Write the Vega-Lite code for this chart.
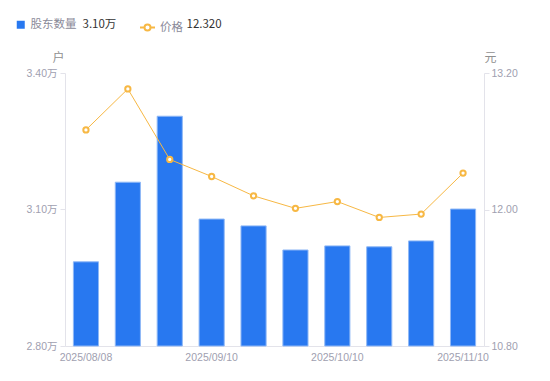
{
  "$schema": "https://vega.github.io/schema/vega-lite/v6.json",
  "width": 419,
  "height": 273,
  "autosize": "none",
  "padding": {"left": 65, "top": 73, "right": 66, "bottom": 35},
  "config": {
    "view": {"stroke": null},
    "font": "Liberation Sans, Noto Sans CJK SC, sans-serif",
    "axis": {"labelFont": "Liberation Sans, Noto Sans CJK SC, sans-serif", "titleFont": "Noto Sans CJK SC"},
    "legend": {"labelFont": "Noto Sans CJK SC, sans-serif", "padding": 0}
  },
  "data": {
    "values": [
      {"date": "2025/08/08", "holders": 2.985, "price": 12.70},
      {"date": "2025/08/20", "holders": 3.160, "price": 13.06},
      {"date": "2025/08/29", "holders": 3.305, "price": 12.44},
      {"date": "2025/09/10", "holders": 3.079, "price": 12.29},
      {"date": "2025/09/19", "holders": 3.064, "price": 12.12},
      {"date": "2025/09/30", "holders": 3.011, "price": 12.01},
      {"date": "2025/10/10", "holders": 3.020, "price": 12.07},
      {"date": "2025/10/20", "holders": 3.018, "price": 11.93},
      {"date": "2025/10/31", "holders": 3.031, "price": 11.96},
      {"date": "2025/11/10", "holders": 3.101, "price": 12.32}
    ]
  },
  "encoding": {
    "x": {
      "field": "date", "type": "ordinal", "sort": null,
      "scale": {"paddingInner": 0.4, "paddingOuter": 0.2},
      "axis": {
        "title": null, "labelAngle": 0,
        "values": ["2025/08/08", "2025/09/10", "2025/10/10", "2025/11/10"],
        "domainColor": "#e3e3ea", "ticks": false, "labelColor": "#a0a0b0",
        "labelFontSize": 10.5, "labelPadding": 6
      }
    }
  },
  "layer": [
    {
      "mark": {"type": "bar", "color": "#2878F0", "stroke": "#8fb8f6", "strokeWidth": 1},
      "encoding": {
        "y": {
          "field": "holders", "type": "quantitative",
          "scale": {"domain": [2.8, 3.4], "zero": false, "nice": false},
          "axis": {
            "values": [2.8, 3.1, 3.4], "grid": false,
            "labelExpr": "format(datum.value, '.2f') + '万'",
            "domainColor": "#e3e3ea", "tickColor": "#e3e3ea", "tickSize": 5,
            "labelColor": "#a0a0b0", "labelFontSize": 10.5, "labelPadding": 3,
            "title": "户", "titleAngle": 0, "titleAlign": "center", "titleBaseline": "bottom",
            "titleX": -7, "titleY": -9, "titleColor": "#909090", "titleFontSize": 12, "titleFontWeight": "normal"
          }
        },
        "y2": {"datum": 2.8},
        "fill": {
          "datum": "股东数量", "type": "nominal",
          "scale": {"domain": ["股东数量"], "range": ["#2878F0"]},
          "legend": {
            "title": null, "orient": "none", "legendX": -50, "legendY": -54,
            "symbolType": "square", "symbolSize": 64, "symbolStrokeWidth": 0,
            "labelOffset": 4, "labelFontSize": 11.5, "labelColor": "#8a8a99"
          }
        },
        "opacity": {
          "datum": "3.10万", "type": "ordinal",
          "scale": {"domain": ["3.10万", "12.320"], "range": [1, 1]},
          "legend": {
            "title": null, "orient": "none", "legendX": 6, "legendY": -54,
            "direction": "horizontal", "columnPadding": 58,
            "symbolType": "M0,0", "symbolSize": 1, "symbolStrokeWidth": 0, "labelOffset": 0,
            "labelFontSize": 11.5, "labelColor": "#333333"
          }
        }
      }
    },
    {
      "mark": {"type": "line", "strokeWidth": 1},
      "encoding": {
        "y": {
          "field": "price", "type": "quantitative",
          "scale": {"domain": [10.8, 13.2], "zero": false, "nice": false},
          "axis": {
            "orient": "right", "values": [10.8, 12, 13.2], "grid": false,
            "format": ".2f",
            "domainColor": "#e3e3ea", "tickColor": "#e3e3ea", "tickSize": 5,
            "labelColor": "#a0a0b0", "labelFontSize": 10.5, "labelPadding": 2,
            "title": "元", "titleAngle": 0, "titleAlign": "center", "titleBaseline": "bottom",
            "titleX": 6, "titleY": -9, "titleColor": "#909090", "titleFontSize": 12, "titleFontWeight": "normal"
          }
        },
        "stroke": {
          "datum": "价格", "type": "nominal",
          "scale": {"domain": ["价格"], "range": ["#F7B844"]},
          "legend": {
            "title": null, "orient": "none", "legendX": 74, "legendY": -54,
            "symbolType": "M-1,0H-0.4M0.4,0H1M-0.4,0A0.4,0.4,0,1,1,0.4,0A0.4,0.4,0,1,1,-0.4,0",
            "symbolSize": 225, "symbolStrokeWidth": 2, "symbolFillColor": "#ffffff",
            "labelOffset": 4, "labelFontSize": 11.5, "labelColor": "#8a8a99"
          }
        }
      }
    },
    {
      "mark": {"type": "point", "shape": "circle", "filled": true, "fill": "#ffffff", "stroke": "#F7B844", "strokeWidth": 2, "size": 28},
      "encoding": {
        "y": {"field": "price", "type": "quantitative", "scale": {"domain": [10.8, 13.2], "zero": false, "nice": false}, "axis": null},
        "opacity": {"datum": "12.320", "type": "ordinal"}
      }
    }
  ],
  "resolve": {"scale": {"y": "independent"}}
}
